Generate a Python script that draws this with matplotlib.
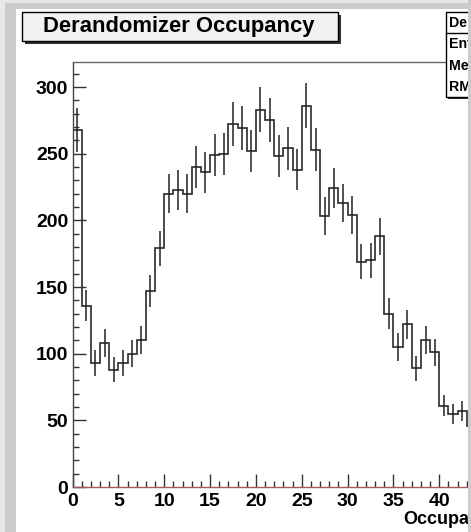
import numpy as np
import matplotlib
matplotlib.use('Agg')
import matplotlib.pyplot as plt
from matplotlib.patches import Rectangle
from matplotlib.lines import Line2D

# bin contents, unit-width bins starting at 0
counts = [268, 136, 93, 108, 88, 93, 100, 110, 147, 179,
          220, 223, 220, 240, 236, 249, 250, 272, 269, 252,
          283, 275, 248, 254, 238, 286, 253, 203, 224, 213,
          204, 169, 170, 188, 130, 105, 122, 89, 110, 101,
          61, 55, 57, 46]
title = "Derandomizer Occupancy"
x_title = "Occupancy"
stat_rows = ["Derandomizer", "Entries", "Mean", "RMS"]

W, H = 471, 532
plt.rcParams['font.family'] = ['Liberation Sans', 'DejaVu Sans']
plt.rcParams['font.weight'] = 'bold'

fig = plt.figure(figsize=(W / 100, H / 100), dpi=100)


def fx(px):
    return px / W


def fy(py):
    return 1 - py / H


# axes frame: x=0 at 72.5px, 9.17px per unit, y=0 at 487px, 1.333px per unit
ax = fig.add_axes([fx(72.5), fy(487), 50 * 9.17 / W, 425 / H])

counts = np.array(counts, dtype=float)
edges = np.arange(len(counts) + 1)
centers = edges[:-1] + 0.5

ax.stairs(counts, edges, color='#2a2a2a', lw=1.2)
ax.errorbar(centers, counts, yerr=np.sqrt(counts), fmt='none',
            ecolor='#222222', elinewidth=1.1, capsize=0)

ax.set_xlim(0, 50)
ax.set_ylim(0, 425 / 1.3333)

# only the ticks that fall inside the visible canvas
ax.set_xticks(np.arange(0, 41, 5))
ax.set_xticks(np.arange(0, 44, 1), minor=True)
ax.set_yticks(np.arange(0, 301, 50))
ax.set_yticks(np.arange(0, 311, 10), minor=True)
ax.tick_params(which='both', direction='in', color='#333333', width=1,
               labelsize=14, top=False, right=False)
ax.tick_params(which='major', length=9.5)
ax.tick_params(which='minor', length=4.5)
ax.tick_params(axis='x', pad=4)
ax.tick_params(axis='y', pad=3)
for lab in ax.get_xticklabels() + ax.get_yticklabels():
    lab.set_fontweight('bold')

ax.spines['bottom'].set_color('#a45a5a')
ax.spines['left'].set_color('#444444')
ax.spines['top'].set_color('#666666')
ax.spines['right'].set_visible(False)
for s in ax.spines.values():
    s.set_linewidth(1)

fig.text(fx(403), fy(520), x_title, fontsize=13, fontweight='bold',
         ha='left', va='center')

# title box with shadow
fig.add_artist(Rectangle((fx(25), fy(44)), fx(316), 29 / H,
                         facecolor='#333333', edgecolor='none', zorder=5))
fig.add_artist(Rectangle((fx(22), fy(41)), fx(316), 29 / H,
                         facecolor='#f2f2f2', edgecolor='black', lw=1, zorder=6))
fig.text(fx(179), fy(26.5), title, fontsize=15.8, fontweight='bold',
         ha='center', va='center', zorder=7)

# statistics box (cut by the right edge)
fig.add_artist(Rectangle((fx(448), fy(99)), fx(60), 85 / H,
                         facecolor='#333333', edgecolor='none', zorder=5))
fig.add_artist(Rectangle((fx(446), fy(97)), fx(60), 85 / H,
                         facecolor='white', edgecolor='black', lw=1, zorder=6))
fig.add_artist(Line2D([fx(446), fx(506)], [fy(33), fy(33)],
                      color='black', lw=1, zorder=7))
for row, py in zip(stat_rows, [23, 44, 66, 87]):
    fig.text(fx(448.5), fy(py), row, fontsize=10.2, fontweight='bold',
             ha='left', va='center', zorder=8)

# grey frame of the canvas
grey = '#cccccc'
fig.add_artist(Rectangle((0, 0), fx(5), 1, facecolor='#e8e8e8',
                         edgecolor='none', zorder=20))
fig.add_artist(Rectangle((fx(5), 0), fx(11), 1, facecolor=grey,
                         edgecolor='none', zorder=20))
fig.add_artist(Rectangle((fx(5), fy(9)), 1, 6 / H, facecolor=grey,
                         edgecolor='none', zorder=20))
fig.add_artist(Rectangle((fx(5), fy(3)), 1, 3 / H, facecolor='#e8e8e8',
                         edgecolor='none', zorder=20))
fig.add_artist(Rectangle((fx(468), 0), fx(10), 1, facecolor=grey,
                         edgecolor='none', zorder=20))

fig.savefig('out.png', dpi=100)
